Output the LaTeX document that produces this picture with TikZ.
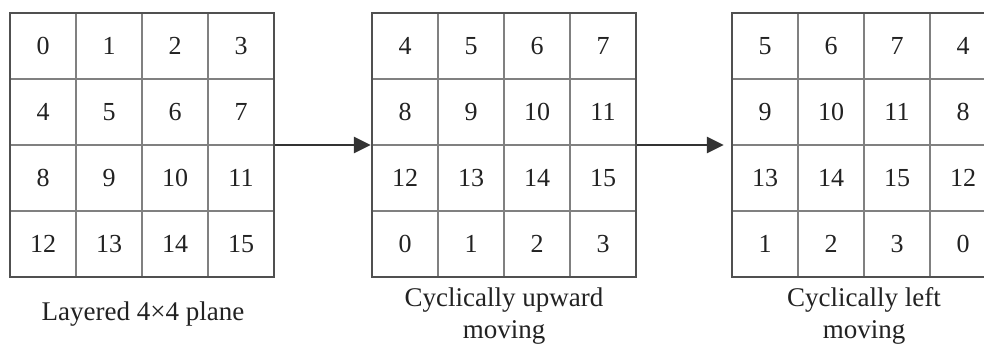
\documentclass[tikz,border=0pt]{standalone}
\usepackage{fontspec}
\setmainfont{Liberation Serif}
\usetikzlibrary{arrows.meta}
\definecolor{innergray}{HTML}{808080}
\definecolor{outergray}{HTML}{505050}
\definecolor{txt}{HTML}{222222}
\definecolor{arrowc}{HTML}{333333}
\newcommand\drawgrid[3]{%
  \foreach [count=\i from 0] \row in {#3} {%
    \foreach [count=\j from 0] \v in \row {%
      \node[cell] (#1-\i-\j) at (#2+33+66*\j, 46+66*\i) {\v};
    }%
  }%
  \node[frame] (#1) at (#2+132, 145) {};
}
\begin{document}
\begin{tikzpicture}[x=1pt,y=-1pt,
  cell/.style={draw=innergray, line width=1.6pt, minimum size=66pt, inner sep=0pt,
    font=\fontsize{26}{30}\selectfont, text=txt},
  frame/.style={draw=outergray, line width=2.5pt, minimum size=264pt, inner sep=0pt},
  conn/.style={draw=arrowc, line width=2.8pt, -{Triangle[length=17pt,width=16pt]}},
  lbl/.style={font=\fontsize{27}{32}\selectfont, text=txt, align=center}]
\useasboundingbox (0,0) rectangle (984,343);
\fill[white] (0,0) rectangle (984,343);
\drawgrid{g1}{10}{{0,1,2,3},{4,5,6,7},{8,9,10,11},{12,13,14,15}}
\drawgrid{g2}{372}{{4,5,6,7},{8,9,10,11},{12,13,14,15},{0,1,2,3}}
\drawgrid{g3}{732}{{5,6,7,4},{9,10,11,8},{13,14,15,12},{1,2,3,0}}
\draw[conn] (g1.east) -- (g2.west);
\draw[conn, shorten >=7pt] (g2.east) -- (g3.west);
\node[lbl] (l1) at (143,314) {Layered 4×4 plane};
\node[lbl] (l2) at (504,316) {Cyclically upward\\moving};
\node[lbl] (l3) at (864,316) {Cyclically left\\moving};
\end{tikzpicture}
\end{document}
